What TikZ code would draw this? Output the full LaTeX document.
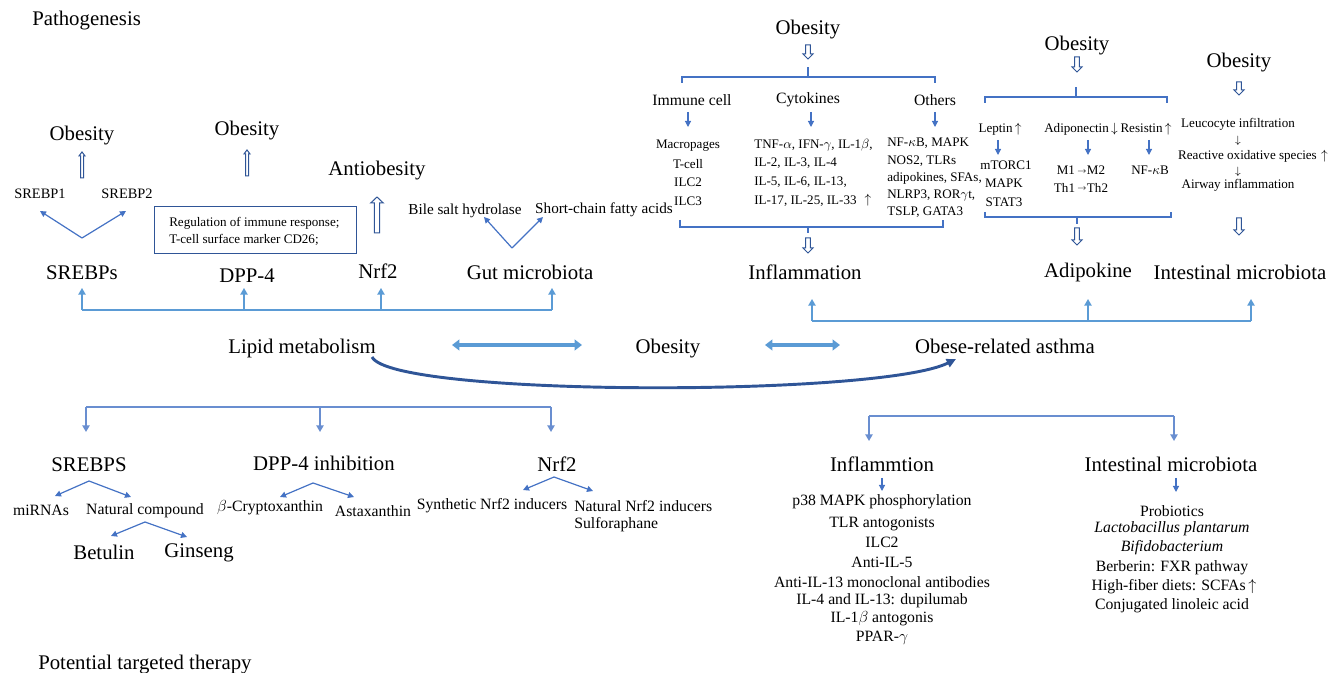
\documentclass[tikz,border=0pt]{standalone}
\usepackage{fontspec}
\setmainfont{Liberation Serif}
\usetikzlibrary{arrows.meta}
\definecolor{lb}{HTML}{5B9BD5}
\definecolor{mb}{HTML}{4472C4}
\definecolor{db}{HTML}{2F5597}
\newcommand{\myhdown}[6]{\draw[hollow] ({#1-#4},#2) -- ({#1+#4},#2) -- ({#1+#4},{#3-#6}) -- ({#1+#5},{#3-#6}) -- (#1,#3) -- ({#1-#5},{#3-#6}) -- ({#1-#4},{#3-#6}) -- cycle;}
\newcommand{\myhup}[6]{\draw[hollow] ({#1-#4},#2) -- ({#1+#4},#2) -- ({#1+#4},{#3+#6}) -- ({#1+#5},{#3+#6}) -- (#1,#3) -- ({#1-#5},{#3+#6}) -- ({#1-#4},{#3+#6}) -- cycle;}
\newcommand{\tarr}[1]{{\fontsize{6}{6}\selectfont\raisebox{0.35ex}{$#1$}}}
\newcommand{\marr}[1]{{\fontsize{8}{8}\selectfont$#1$}}
\tikzset{
  big/.style={font=\fontsize{15.6}{18}\selectfont, inner sep=0pt, yshift=-2pt},
  med/.style={font=\fontsize{11.8}{14}\selectfont, inner sep=0pt, yshift=-2pt},
  mid/.style={font=\fontsize{10.8}{13}\selectfont, inner sep=0pt, yshift=-2pt},
  midb/.style={font=\fontsize{11.4}{13}\selectfont, inner sep=0pt, yshift=-2pt},
  sml/.style={font=\fontsize{9.8}{12}\selectfont, inner sep=0pt, yshift=-2pt},
  conn/.style={mb, line width=0.9pt, -{Triangle[length=4.5pt,width=4.5pt]}},
  brk/.style={mb, line width=1pt},
  lbar/.style={lb, line width=1pt},
  lup/.style={lb, line width=1pt, -{Triangle[length=5pt,width=5.5pt]}},
  lbar2/.style={mb!80, line width=1.1pt},
  ldown/.style={mb!80, line width=1.1pt, -{Triangle[length=5pt,width=5.5pt]}},
  hollow/.style={draw=db, fill=white, line width=0.75pt, line join=miter},
  dbl/.style={lb, line width=3.6pt, {Triangle[length=5.5pt,width=8pt]}-{Triangle[length=5.5pt,width=8pt]}},
}
\begin{document}
\begin{tikzpicture}[x=0.75pt,y=-0.75pt]
\useasboundingbox (0,0) rectangle (1336,673);

% ---------- titles
\node[big, anchor=west] (patho) at (32,18) {Pathogenesis};
\node[big, anchor=west] (ptt) at (38,662) {Potential targeted therapy};

% ---------- SREBPs
\node[big] (ob1) at (82,133) {Obesity};
\myhup{82}{178}{152}{1.5}{3}{4}
\node[mid] (s1) at (40,191) {SREBP1};
\node[mid] (s2) at (127,191) {SREBP2};
\coordinate (v1) at (82,238);
\coordinate (v1l) at (40,211);
\coordinate (v1r) at (126,211);
\draw[conn] (v1) -- (v1l);
\draw[conn] (v1) -- (v1r);
\node[big] (srebps) at (82,270) {SREBPs};

% ---------- DPP-4
\node[big] (ob2) at (247,128) {Obesity};
\myhup{247}{176}{150}{1.5}{3}{4}
\node[draw=db, line width=0.9pt, minimum width=151.5pt, minimum height=35.25pt, inner sep=0pt, anchor=north west] (box) at (154,206) {};
\node[sml, anchor=west] (bt1) at (169,221) {Regulation of immune response;};
\node[sml, anchor=west] (bt2) at (169,237) {T-cell surface marker CD26;};
\node[big] (dpp) at (247,273) {DPP-4};

% ---------- Nrf2
\node[big] (anti) at (377,168) {Antiobesity};
\myhup{377}{233}{197}{2.7}{6.3}{6}
\node[big] (nrf) at (378,269) {Nrf2};

% ---------- Gut microbiota
\node[midb] (bsh) at (465,208) {Bile salt hydrolase};
\node[midb] (scfa) at (604,207) {Short-chain fatty acids};
\coordinate (v2) at (512,248);
\coordinate (v2l) at (484,217);
\coordinate (v2r) at (543,217);
\draw[conn] (v2) -- (v2l);
\draw[conn] (v2) -- (v2r);
\node[big] (gut) at (530,270) {Gut microbiota};

% ---------- left bar
\coordinate (b1) at (82,310);
\coordinate (b2) at (244,310);
\coordinate (b3) at (381,310);
\coordinate (b4) at (552,310);
\draw[lbar] (b1) -- (b4);
\draw[lup] (b1) -- (82,288);
\draw[lup] (b2) -- (244,288);
\draw[lup] (b3) -- (381,288);
\draw[lup] (b4) -- (552,288);

% ---------- middle row
\node[big] (lipid) at (302,346) {Lipid metabolism};
\node[big] (obm) at (668,346) {Obesity};
\node[big] (ora) at (1005,344) {Obese-related asthma};
\coordinate (d1a) at (452,345); \coordinate (d1b) at (582,345);
\coordinate (d2a) at (765,345); \coordinate (d2b) at (840,345);
\draw[dbl] (d1a) -- (d1b);
\draw[dbl] (d2a) -- (d2b);
\coordinate (cs) at (372,357);
\coordinate (ce) at (956,359);
\draw[db, line width=2.2pt, -{Triangle[length=7pt,width=6.5pt]}] (cs) .. controls (392,397) and (880,397) .. (ce);

% ---------- right bar
\coordinate (r1) at (812,321);
\coordinate (r2) at (1088,321);
\coordinate (r3) at (1251,321);
\draw[lbar] (r1) -- (r3);
\draw[lup] (r1) -- (812,299);
\draw[lup] (r2) -- (1088,299);
\draw[lup] (r3) -- (1251,299);

% ---------- Inflammation block
\node[big] (ob3) at (808,27) {Obesity};
\myhdown{808}{45}{59}{2.3}{5}{5}
\draw[brk] (682,83) -- (682,77) -- (935,77) -- (935,83);
\draw[brk] (808,77) -- (808,67);
\node[med] (imm) at (692,97) {Immune cell};
\node[med] (cyt) at (808,97) {Cytokines};
\node[med] (oth) at (935,97) {Others};
\draw[conn] (688,112) -- (688,127);
\draw[conn] (811,112) -- (811,127);
\draw[conn] (935,112) -- (935,127);
\node[sml] (i1) at (688,143) {Macropages};
\node[sml] (i2) at (688,161) {T-cell};
\node[sml] (i3) at (688,180) {ILC2};
\node[sml] (i4) at (688,199) {ILC3};
\node[sml, anchor=west] (c1) at (754,143) {TNF-$\alpha$, IFN-$\gamma$, IL-1$\beta$,};
\node[sml, anchor=west] (c2) at (754,161) {IL-2, IL-3, IL-4};
\node[sml, anchor=west] (c3) at (754,180) {IL-5, IL-6, IL-13,};
\node[sml, anchor=west] (c4) at (754,199) {IL-17, IL-25, IL-33};
\node[sml] (c4a) at (868,198) {$\uparrow$};
\node[sml, anchor=west] (o1) at (887,141) {NF-$\kappa$B, MAPK};
\node[sml, anchor=west] (o2) at (887,159) {NOS2, TLRs};
\node[sml, anchor=west] (o3) at (887,176) {adipokines, SFAs,};
\node[sml, anchor=west] (o4) at (887,193) {NLRP3, ROR$\gamma$t,};
\node[sml, anchor=west] (o5) at (887,210) {TSLP, GATA3};
\draw[brk] (680,220) -- (680,227) -- (943,227) -- (943,220);
\draw[brk] (808,227) -- (808,233);
\myhdown{808}{238}{253}{2.3}{5}{5}
\node[big] (infl) at (805,270) {Inflammation};

% ---------- Adipokine block
\node[big] (ob4) at (1077,43) {Obesity};
\myhdown{1077}{57}{72}{2.3}{5}{5}
\draw[brk] (985,103) -- (985,97) -- (1167,97) -- (1167,103);
\draw[brk] (1076,97) -- (1076,87);
\node[sml] (lep) at (1000,127) {Leptin\,$\uparrow$};
\node[sml] (adn) at (1081,127) {Adiponectin\,$\downarrow$};
\node[sml] (res) at (1146,127) {Resistin\,$\uparrow$};
\draw[conn] (998,140) -- (998,155);
\draw[conn] (1088,140) -- (1088,155);
\draw[conn] (1149,140) -- (1149,155);
\node[sml] (a1) at (1006,163) {mTORC1};
\node[sml] (a2) at (1004,181) {MAPK};
\node[sml] (a3) at (1004,200) {STAT3};
\node[sml] (m1) at (1081,168) {M1\,\tarr{\rightarrow}M2};
\node[sml] (m2) at (1081,185) {Th1\,\tarr{\rightarrow}Th2};
\node[sml] (nfk) at (1150,168) {NF-$\kappa$B};
\draw[brk] (985,212) -- (985,217) -- (1171,217) -- (1171,212);
\draw[brk] (1077,217) -- (1077,224);
\myhdown{1077}{228}{245}{2.3}{5}{5}
\node[big] (adipo) at (1088,270) {Adipokine};

% ---------- Intestinal block
\node[big] (ob5) at (1239,60) {Obesity};
\myhdown{1239}{82}{95}{2.3}{5}{5}
\node[sml] (leu) at (1238,122) {Leucocyte infiltration};
\node[sml] (da1) at (1238,138) {\marr{\downarrow}};
\node[sml] (ros) at (1253,154) {Reactive oxidative species\,\,$\uparrow$};
\node[sml] (da2) at (1238,169) {\marr{\downarrow}};
\node[sml] (air) at (1238,183) {Airway inflammation};
\myhdown{1239}{218}{235}{2.3}{5}{5}
\node[big] (intm) at (1240,270) {Intestinal microbiota};

% ---------- lower left bar
\coordinate (l1) at (86,407);
\coordinate (l2) at (320,407);
\coordinate (l3) at (551,407);
\draw[lbar2] (l1) -- (l3);
\draw[ldown] (l1) -- (86,432);
\draw[ldown] (l2) -- (320,432);
\draw[ldown] (l3) -- (551,432);

\node[big] (srebps2) at (89,462) {SREBPS};
\coordinate (v3) at (89,481);
\draw[conn] (v3) -- (55,496);
\draw[conn] (v3) -- (131,497);
\node[med] (mir) at (41,508) {miRNAs};
\node[med] (natc) at (145,508) {Natural compound};
\coordinate (v4) at (145,522);
\draw[conn] (v4) -- (111,536);
\draw[conn] (v4) -- (187,537);
\node[big] (bet) at (104,550) {Betulin};
\node[big] (gin) at (199,550) {Ginseng};

\node[big] (dppi) at (324,461) {DPP-4 inhibition};
\coordinate (v5) at (313,483);
\draw[conn] (v5) -- (280,497);
\draw[conn] (v5) -- (354,497);
\node[med] (bcx) at (270,505) {$\beta$-Cryptoxanthin};
\node[med] (asta) at (373,508) {Astaxanthin};

\node[big] (nrf2b) at (557,462) {Nrf2};
\coordinate (v6) at (554,477);
\draw[conn] (v6) -- (523,490);
\draw[conn] (v6) -- (593,491);
\node[med] (syn) at (492,503) {Synthetic Nrf2 inducers};
\node[med, anchor=west] (nat) at (574,503) {Natural Nrf2 inducers};
\node[med, anchor=west] (sulf) at (574,522) {Sulforaphane};

% ---------- lower right bar
\coordinate (k1) at (869,416);
\coordinate (k2) at (1174,416);
\draw[lbar2] (k1) -- (k2);
\draw[ldown] (k1) -- (869,441);
\draw[ldown] (k2) -- (1174,441);

\node[big] (inflm) at (882,462) {Inflammtion};
\draw[conn] (882,478) -- (882,491);
\node[med] (t1) at (882,499) {p38 MAPK phosphorylation};
\node[med] (t2) at (882,521) {TLR antogonists};
\node[med] (t3) at (882,540) {ILC2};
\node[med] (t4) at (882,560) {Anti-IL-5};
\node[med] (t5) at (882,579) {Anti-IL-13 monoclonal antibodies};
\node[med] (t6) at (882,598) {IL-4 and IL-13: dupilumab};
\node[med] (t7) at (882,616) {IL-1$\beta$ antogonis};
\node[med] (t8) at (882,635) {PPAR-$\gamma$};

\node[big] (intm2) at (1171,462) {Intestinal microbiota};
\draw[conn] (1176,478) -- (1176,492);
\node[med] (p1) at (1172,508) {Probiotics};
\node[med] (p2) at (1172,526) {\itshape Lactobacillus plantarum};
\node[med] (p3) at (1172,545) {\itshape Bifidobacterium};
\node[med] (p4) at (1172,565) {Berberin: FXR pathway};
\node[med] (p5) at (1174,584) {High-fiber diets: SCFAs\,$\uparrow$};
\node[med] (p6) at (1172,603) {Conjugated linoleic acid};
\end{tikzpicture}
\end{document}
